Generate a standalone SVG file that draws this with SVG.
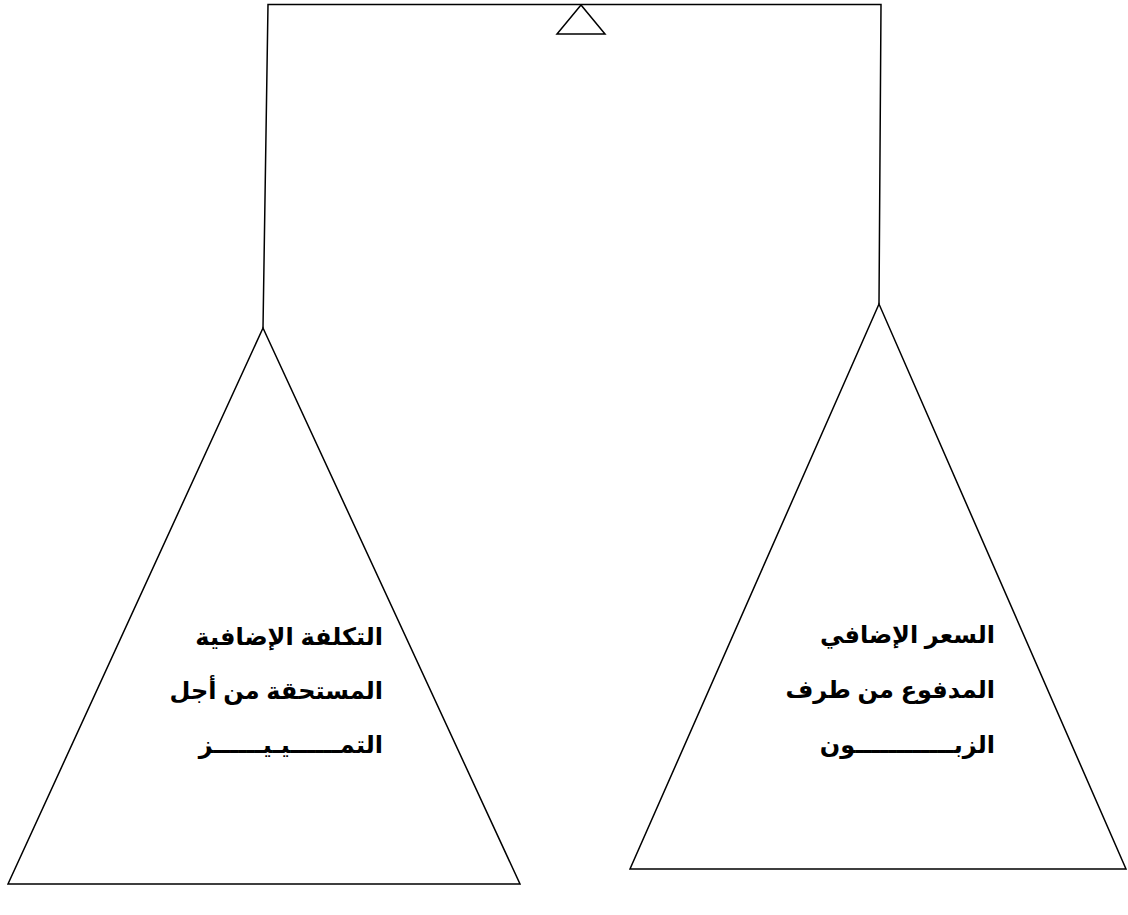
<svg xmlns="http://www.w3.org/2000/svg" width="1128" height="915" viewBox="0 0 1128 915">
<style>
.ln{fill:none;stroke:#000;stroke-width:1.5;stroke-linejoin:miter}
.tx{font-family:"Liberation Sans","DejaVu Sans",sans-serif;font-weight:bold;font-size:24px;fill:#000;text-anchor:end}
</style>
<rect width="1128" height="915" fill="#fff"/>
<g id="connectors">
<polyline class="ln" points="263,328 268,4.5 881,4.5 879,304"/>
</g>
<g id="fulcrum">
<polygon class="ln" points="581,5 557,34 605,34"/>
</g>
<g id="left-pan">
<polygon class="ln" points="263,328 8,884 520,884"/>
<text class="tx" x="383" y="645">التكلفة الإضافية</text>
<text class="tx" x="383" y="699">المستحقة من أجل</text>
<text class="tx" x="383" y="753">التمــــــيـيــــــز</text>
</g>
<g id="right-pan">
<polygon class="ln" points="879,304 630,869 1126,869"/>
<text class="tx" x="995" y="643">السعر الإضافي</text>
<text class="tx" x="995" y="698">المدفوع من طرف</text>
<text class="tx" x="995" y="753">الزبــــــــــــون</text>
</g>
</svg>
